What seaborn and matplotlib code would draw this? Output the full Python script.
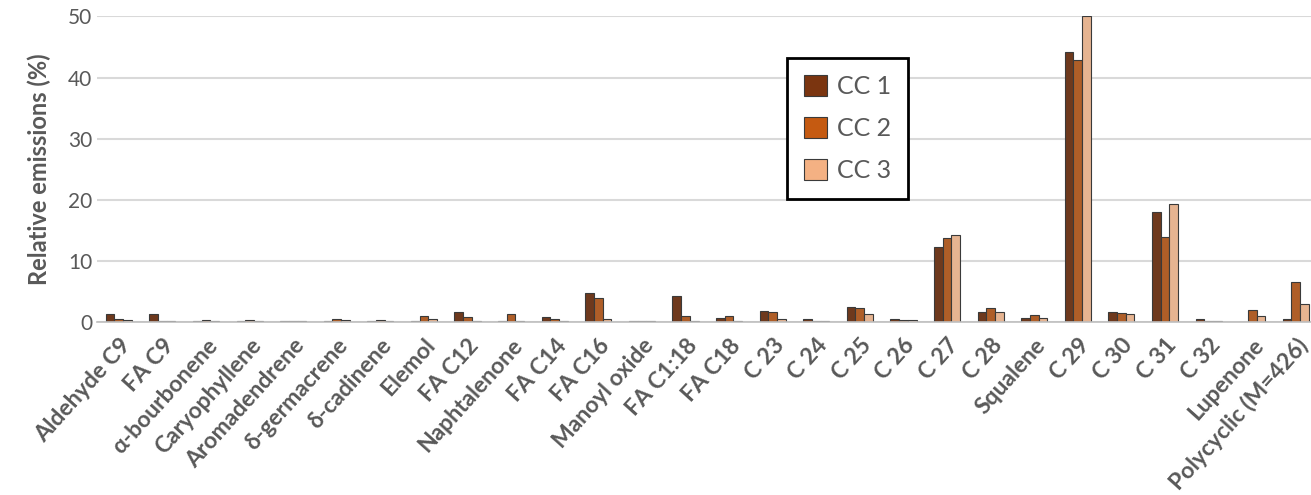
import numpy as np
import pandas as pd
import matplotlib
matplotlib.use("Agg")
import matplotlib.pyplot as plt
import seaborn as sns
from matplotlib.patches import Patch

# ------------------------------------------------------------
# data (relative emissions, %)
# ------------------------------------------------------------
compounds = [
    "Aldehyde C9", "FA C9", "α-bourbonene", "Caryophyllene", "Aromadendrene",
    "δ-germacrene", "δ-cadinene", "Elemol", "FA C12", "Naphtalenone",
    "FA C14", "FA C16", "Manoyl oxide", "FA C1:18", "FA C18",
    "C 23", "C 24", "C 25", "C 26", "C 27", "C 28", "Squalene",
    "C 29", "C 30", "C 31", "C 32", "Lupenone", "Polycyclic (M=426)",
]
cc1 = [1.3, 1.4, 0.2, 0.2, 0.2, 0.2, 0.2, 0.2, 1.6, 0.2,
       0.8, 4.7, 0.2, 4.3, 0.7, 1.8, 0.5, 2.5, 0.5, 12.3,
       1.7, 0.7, 44.2, 1.6, 18.1, 0.6, 0.1, 0.5]
cc2 = [0.5, 0.2, 0.3, 0.3, 0.2, 0.6, 0.3, 1.0, 0.9, 1.3,
       0.6, 3.9, 0.2, 1.1, 1.0, 1.6, 0.2, 2.4, 0.3, 13.8,
       2.3, 1.2, 42.8, 1.5, 13.9, 0.2, 2.0, 6.5]
cc3 = [0.3, 0.2, 0.2, 0.2, 0.2, 0.4, 0.2, 0.6, 0.2, 0.2,
       0.2, 0.5, 0.2, 0.2, 0.2, 0.5, 0.2, 1.4, 0.3, 14.2,
       1.7, 0.7, 50.0, 1.4, 19.4, 0.2, 1.0, 3.0]
series = ["CC 1", "CC 2", "CC 3"]
colors = ["#7B3510", "#C55A11", "#F4B183"]

df = pd.DataFrame({
    "compound": compounds * 3,
    "value": cc1 + cc2 + cc3,
    "series": np.repeat(series, len(compounds)),
})

sns.set_theme(style="white")
plt.rcParams["font.family"] = ["Lato", "DejaVu Sans"]

fig = plt.figure(figsize=(13.11, 4.95), dpi=100)
ax = fig.add_axes([0.074, 0.349, 0.931, 0.618])

sns.barplot(data=df, x="compound", y="value", hue="series",
            hue_order=series, palette=colors, width=0.6,
            edgecolor="#3a3a3a", linewidth=0.8, legend=False, ax=ax)

ax.set_xlim(-0.5, len(compounds) - 0.5)
ax.set_ylim(0, 50)
ax.set_yticks(range(0, 51, 10))
ax.yaxis.grid(True, color="#d9d9d9", linewidth=1.5)
ax.set_axisbelow(True)
for side in ["top", "right", "left"]:
    ax.spines[side].set_visible(False)
ax.spines["bottom"].set_color("#bfbfbf")
ax.spines["bottom"].set_linewidth(1.2)
ax.tick_params(axis="both", length=0)

ax.set_xlabel("")
ax.set_ylabel("Relative emissions (%)", fontsize=17, fontweight="bold",
              color="#595959", labelpad=12)
plt.setp(ax.get_yticklabels(), fontsize=15, color="#595959")
ax.set_xticks(range(len(compounds)))
ax.set_xticklabels(compounds, rotation=48, ha="right", rotation_mode="anchor",
                   fontsize=16.5, fontweight="bold", color="#595959")
ax.tick_params(axis="x", pad=9)

handles = [Patch(facecolor=c, edgecolor="#3a3a3a", linewidth=0.8) for c in colors]
leg = fig.legend(handles, series, loc="upper left",
                 bbox_to_anchor=(0.600, 0.883), frameon=True, fancybox=False,
                 fontsize=18, labelcolor="#595959", handlelength=0.9,
                 handleheight=0.9, handletextpad=0.4, labelspacing=0.75,
                 borderpad=0.7, borderaxespad=0)
leg.get_frame().set_edgecolor("black")
leg.get_frame().set_linewidth(2)
leg.get_frame().set_facecolor("white")
leg.get_frame().set_alpha(1)

fig.savefig("out.png", dpi=100)
